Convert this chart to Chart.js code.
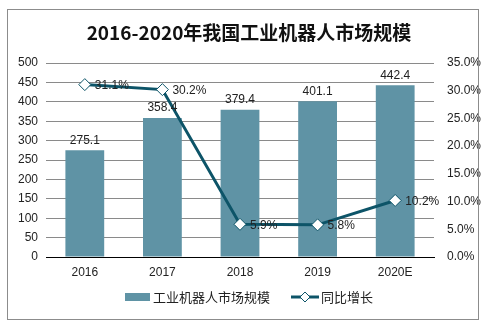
<!DOCTYPE html>
<html><head><meta charset="utf-8">
<script src="https://cdn.jsdelivr.net/npm/chart.js@4.4.1/dist/chart.umd.min.js"></script>
<style>
html,body{margin:0;padding:0;background:#fff;}
#wrap{position:relative;width:493px;height:328px;}
#frame{position:absolute;left:7px;top:9px;width:470px;height:309px;border:1px solid #8c8c8c;pointer-events:none;}
</style></head>
<body>
<div id="wrap"><canvas id="c" width="493" height="328"></canvas><div id="frame"></div></div>
<script>
const categories = ['2016','2017','2018','2019','2020E'];
const marketSize = [275.1, 358.4, 379.4, 401.1, 442.4];
const growthPct = [31.1, 30.2, 5.9, 5.8, 10.2];
const leftTicks = [0,50,100,150,200,250,300,350,400,450,500];
const rightTicks = [0,5,10,15,20,25,30,35];
const titleText = '2016-2020年我国工业机器人市场规模';
const barLabel = '工业机器人市场规模';
const lineLabel = '同比增长';

const BAR = '#5f93a5', LINE = '#0d5468';
const FONT = '"Liberation Sans", Arial, sans-serif';
const CJK = '"Noto Sans CJK SC", sans-serif';

const extras = {
  id:'extras',
  afterDatasetsDraw(chart){
    const ctx = chart.ctx;
    ctx.save();
    ctx.fillStyle = '#222';
    ctx.font = '12px ' + FONT;
    const mBar = chart.getDatasetMeta(1);
    mBar.data.forEach((b,i)=>{
      ctx.textAlign='center'; ctx.textBaseline='bottom';
      ctx.fillText(marketSize[i].toFixed(1), b.x, b.y - 4);
    });
    const mLine = chart.getDatasetMeta(0);
    mLine.data.forEach((p,i)=>{
      ctx.textAlign='left'; ctx.textBaseline='middle';
      ctx.fillText(growthPct[i].toFixed(1)+'%', p.x + 10, p.y + 1);
    });
    ctx.font = 'bold 19px ' + CJK;
    ctx.textAlign='center'; ctx.textBaseline='middle';
    ctx.fillStyle='#111';
    ctx.fillText(titleText, 249, 33);
    const ly = 297;
    ctx.fillStyle = BAR;
    ctx.fillRect(125, ly-4, 25, 8);
    ctx.font = '13px ' + CJK;
    ctx.fillStyle = '#222';
    ctx.textAlign='left';
    ctx.fillText(barLabel, 153, ly);
    ctx.strokeStyle = LINE; ctx.lineWidth = 3;
    ctx.beginPath(); ctx.moveTo(291, ly); ctx.lineTo(319, ly); ctx.stroke();
    ctx.fillStyle='#fff'; ctx.strokeStyle=LINE; ctx.lineWidth=1;
    ctx.beginPath(); ctx.moveTo(305,ly-5); ctx.lineTo(310,ly); ctx.lineTo(305,ly+5); ctx.lineTo(300,ly); ctx.closePath(); ctx.fill(); ctx.stroke();
    ctx.fillStyle = '#222';
    ctx.fillText(lineLabel, 321, ly);
    ctx.restore();
  }
};

new Chart(document.getElementById('c'), {
  data:{
    labels: categories,
    datasets:[
      {type:'line', label:lineLabel, data:growthPct, yAxisID:'y1', borderColor:LINE, borderWidth:3,
       pointStyle:'rectRot', pointRadius:6, pointBackgroundColor:'#fff', pointBorderColor:LINE, pointBorderWidth:1, order:0, tension:0},
      {type:'bar', label:barLabel, data:marketSize, yAxisID:'y', backgroundColor:BAR, categoryPercentage:1, barPercentage:0.5, order:1}
    ]
  },
  options:{
    responsive:false, animation:false,
    layout:{padding:{top:63, bottom:47, left:0, right:0}},
    plugins:{legend:{display:false}, tooltip:{enabled:false}, title:{display:false}},
    scales:{
      x:{offset:true, grid:{display:false, drawTicks:false}, border:{color:'#000', width:1},
         ticks:{color:'#222', font:{family:FONT, size:12}, padding:8},
         afterFit(s){ s.height = 24; }},
      y:{position:'left', min:0, max:500, ticks:{stepSize:50, color:'#222', font:{family:FONT, size:12}, padding:8},
         grid:{color:'#8a8a8a', drawTicks:false}, border:{display:false},
         afterFit(s){ s.width = 46; }},
      y1:{position:'right', min:0, max:35, ticks:{stepSize:5, color:'#222', font:{family:FONT, size:12}, padding:5, callback:v=>v.toFixed(1)+'%'},
          grid:{display:false}, border:{display:false},
          afterFit(s){ s.width = 59; }}
    }
  },
  plugins:[extras]
});
</script>
</body></html>
